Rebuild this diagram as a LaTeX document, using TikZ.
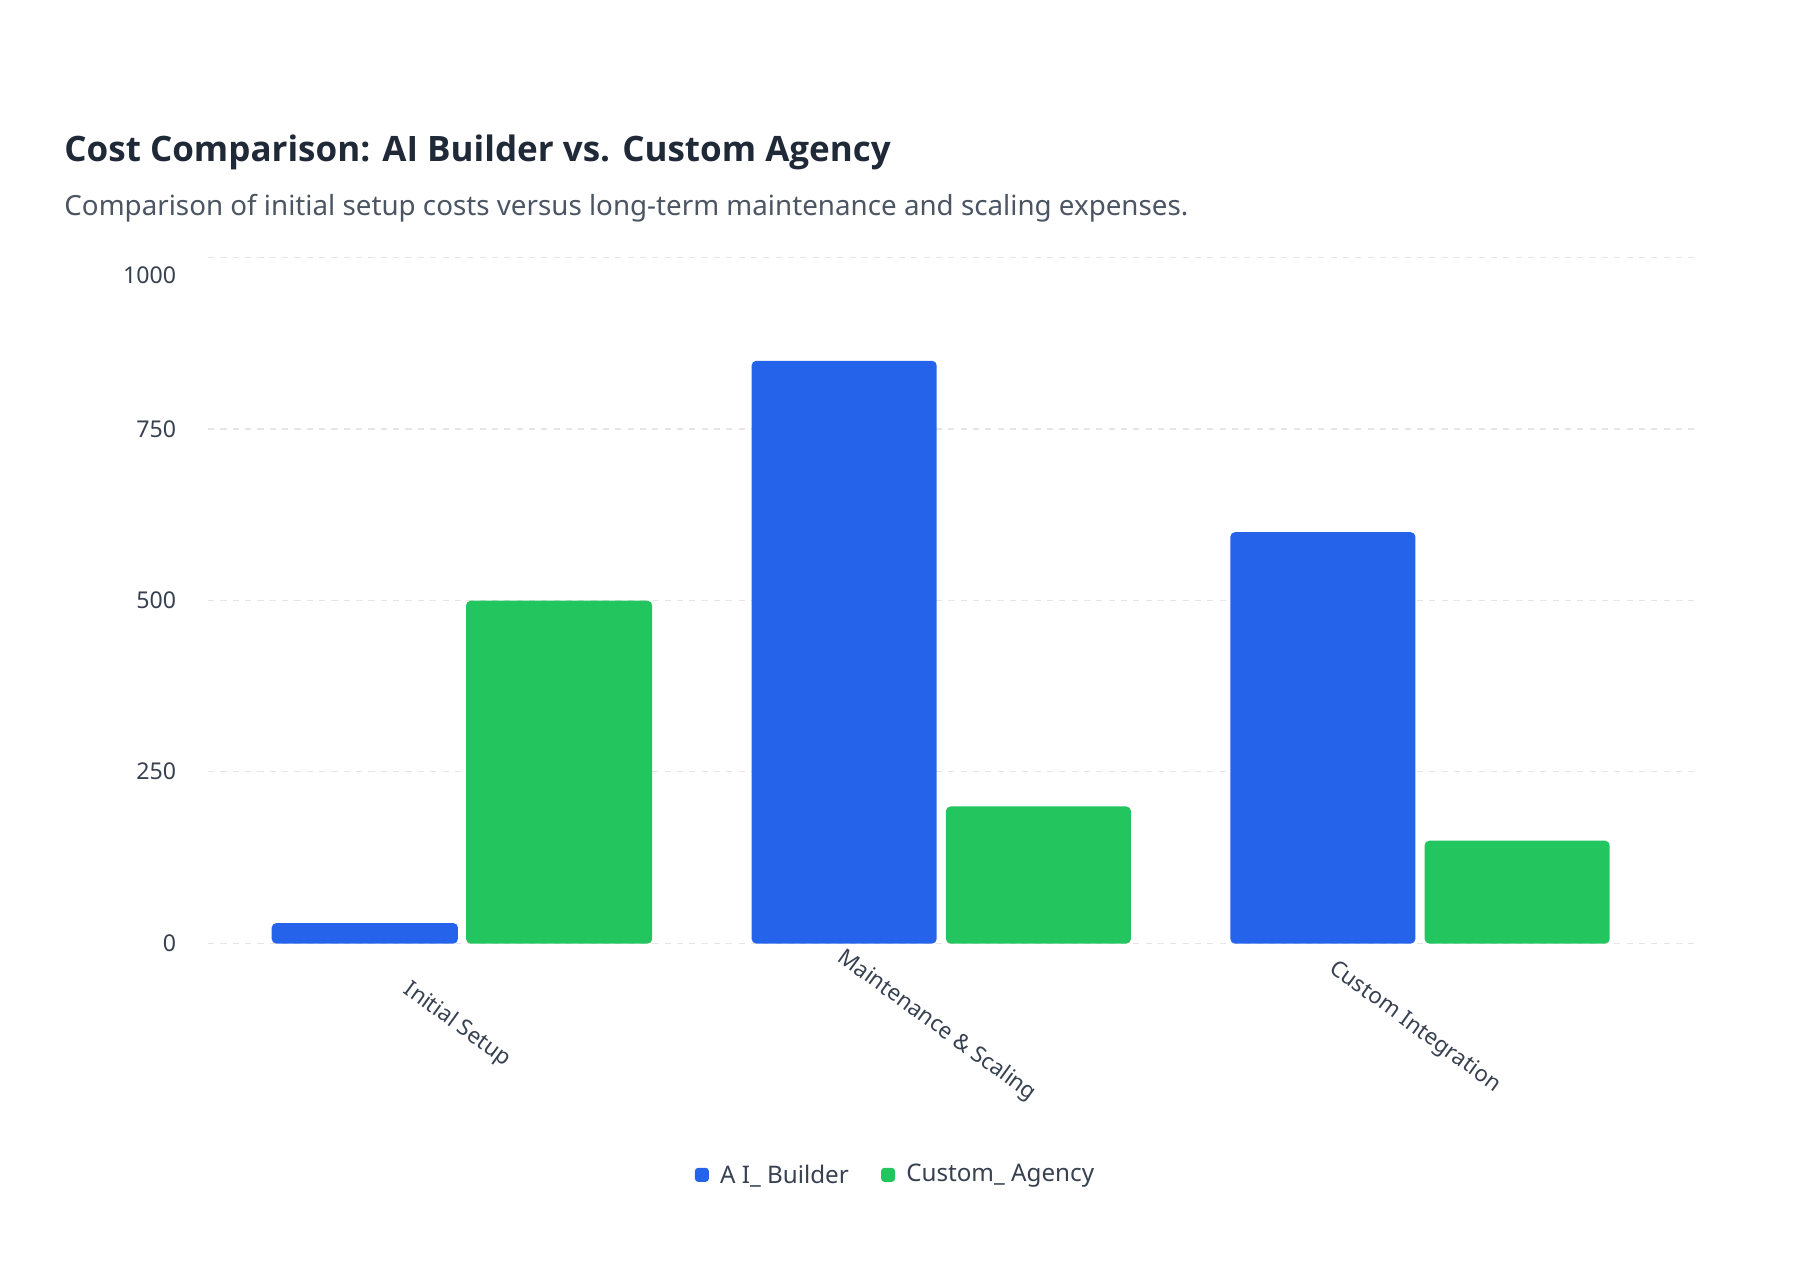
\documentclass[tikz,border=0pt]{standalone}
\usepackage{fontspec}
\setmainfont{Noto Sans}
\newfontfamily\ttlfont{Open Sans}
\definecolor{ablue}{HTML}{2563EB}
\definecolor{agreen}{HTML}{22C55E}
\definecolor{ttl}{HTML}{1F2937}
\definecolor{sub}{HTML}{4B5563}
\definecolor{tick}{HTML}{374151}
\begin{document}
\begin{tikzpicture}[x=0.75pt,y=-0.75pt,
  grid/.style={draw=gray!20,dash pattern=on 4pt off 4pt,line width=0.8pt},
  ylab/.style={anchor=east,font=\fontsize{15}{17}\selectfont,text=tick},
  xlab/.style={anchor=north west,rotate=-36,font=\fontsize{14.5}{16}\selectfont,text=tick},
  bar/.style={rounded corners=3pt}]
\useasboundingbox[fill=white] (0,0) rectangle (1567,1098);
\node[anchor=base west,font=\ttlfont\bfseries\fontsize{22.7}{26}\selectfont,text=ttl] (title) at (51,140) {Cost Comparison: AI Builder vs. Custom Agency};
\node[anchor=base west,font=\fontsize{18}{20}\selectfont,text=sub] (subtitle) at (51,186) {Comparison of initial setup costs versus long-term maintenance and scaling expenses.};
\foreach \v/\y in {1000/223,750/371,500/519,250/667,0/816}{
  \draw[grid] (180,\y) -- (1470,\y);
}
\node[ylab] (l1000) at (157,238) {1000};
\node[ylab] (l750) at (157,371) {750};
\node[ylab] (l500) at (157,519) {500};
\node[ylab] (l250) at (157,667) {250};
\node[ylab] (l0) at (157,816) {0};
\fill[ablue,bar] (235,816) -- (235,798.2) -- (396,798.2) -- (396,816) -- cycle;
\fill[agreen,bar] (403,816) -- (403,519.5) -- (564,519.5) -- (564,816) -- cycle;
\fill[ablue,bar] (650,816) -- (650,312) -- (810,312) -- (810,816) -- cycle;
\fill[agreen,bar] (818,816) -- (818,697.4) -- (978,697.4) -- (978,816) -- cycle;
\fill[ablue,bar] (1064,816) -- (1064,460.2) -- (1224,460.2) -- (1224,816) -- cycle;
\fill[agreen,bar] (1232,816) -- (1232,727) -- (1392,727) -- (1392,816) -- cycle;
\fill[white] (230,816.5) rectangle (1400,822);
\node[xlab] (c1) at (356,840) {Initial Setup};
\node[xlab] (c2) at (731,812) {Maintenance \& Scaling};
\node[xlab] (c3) at (1156,822) {Custom Integration};
\fill[ablue,rounded corners=2pt] (601,1010) rectangle (613,1022);
\node[anchor=west,font=\fontsize{15.7}{18}\selectfont,text=tick] (lg1) at (618,1017) {A I\_ Builder};
\fill[agreen,rounded corners=2pt] (762,1010) rectangle (774,1022);
\node[anchor=west,font=\fontsize{15.7}{18}\selectfont,text=tick] (lg2) at (779,1017) {Custom\_ Agency};
\end{tikzpicture}
\end{document}
